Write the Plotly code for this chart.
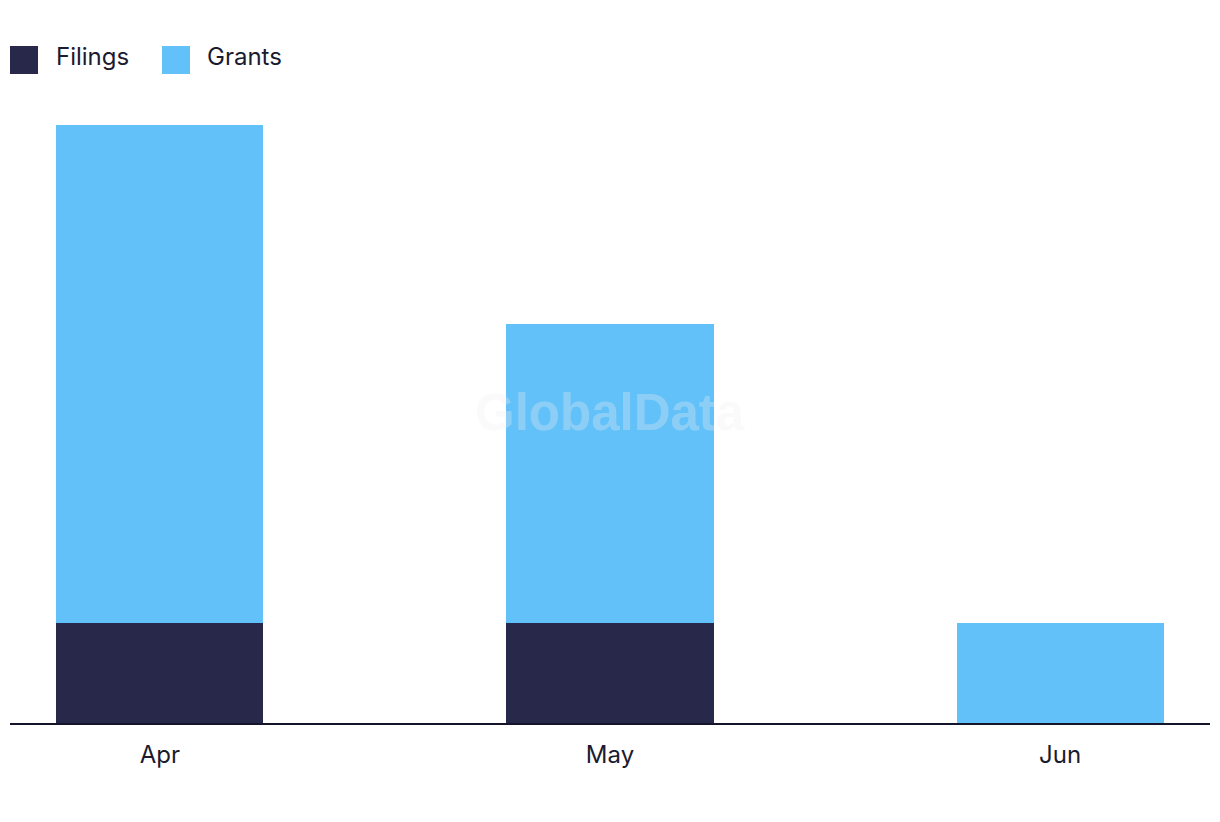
import plotly.graph_objects as go

months = ["Apr", "May", "Jun"]
filings = [1, 1, 0]
grants = [5, 3, 1]

series_names = ["Filings", "Grants"]
series_colors = ["#28284a", "#63c1f9"]

# page body has an 8px margin; the figure is placed so that the plot area sits at x 10..1210, y 100..723
OFF = 8
W, H = 1212, 814
ML, MR, MT, MB = 10 - OFF, 10, 100 - OFF, 99
PW, PH = W - ML - MR, H - MT - MB
UNIT = 99.7  # pixels per unit

def px2paper_x(px):
    return (px - OFF - ML) / PW

def px2paper_y(py):
    return (H + OFF - MB - py) / PH

fig = go.Figure()
for name, vals, col in zip(series_names, [filings, grants], series_colors):
    fig.add_trace(go.Bar(x=months, y=vals, name=name, marker=dict(color=col, line=dict(width=0)),
                         width=0.46, showlegend=False, hoverinfo="x+y+name"))

shapes = []
annotations = []
leg_x = [10, 162]
leg_text_x = [54, 205]
for i, (name, col) in enumerate(zip(series_names, series_colors)):
    shapes.append(dict(type="rect", xref="paper", yref="paper",
                       x0=px2paper_x(leg_x[i]), x1=px2paper_x(leg_x[i] + 28),
                       y0=px2paper_y(74), y1=px2paper_y(46),
                       fillcolor=col, line=dict(width=0)))
    annotations.append(dict(text=name, xref="paper", yref="paper",
                            x=px2paper_x(leg_text_x[i]), y=px2paper_y(57),
                            xanchor="left", yanchor="middle", showarrow=False,
                            font=dict(family="Inter, Roboto, sans-serif", size=24, color="#1b1b2f")))

annotations.append(dict(text="<b>GlobalData</b>", xref="paper", yref="paper",
                        x=px2paper_x(610), y=px2paper_y(412), xanchor="center", yanchor="middle",
                        showarrow=False,
                        font=dict(family="Liberation Sans, Arial, sans-serif", size=51,
                                  color="rgba(238,238,238,0.3)")))

fig.update_layout(
    width=W, height=H,
    margin=dict(l=ML, r=MR, t=MT, b=MB),
    barmode="stack",
    plot_bgcolor="white", paper_bgcolor="white",
    shapes=shapes, annotations=annotations,
    font=dict(family="Inter, Roboto, sans-serif", size=24, color="#1b1b2f"),
    xaxis=dict(type="category", range=[-0.333, 2.333], showgrid=False, zeroline=False,
               showline=True, linecolor="#14142b", linewidth=2,
               ticks="", ticklabelstandoff=9,
               tickfont=dict(family="Inter, Roboto, sans-serif", size=24, color="#1b1b2f")),
    yaxis=dict(range=[0, PH / UNIT], showgrid=False, zeroline=False, showline=False,
               showticklabels=False, ticks=""),
)

fig.write_html("out.html")
